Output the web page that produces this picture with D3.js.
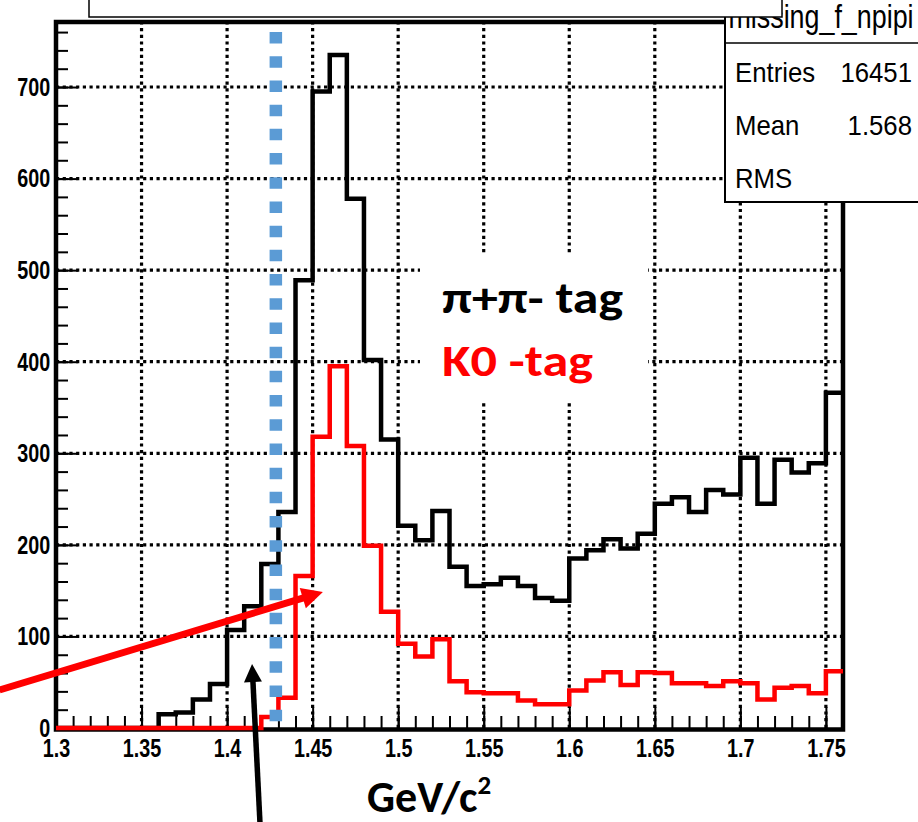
<!DOCTYPE html>
<html>
<head>
<meta charset="utf-8">
<script src="https://cdn.jsdelivr.net/npm/d3@7/dist/d3.min.js"></script>
<style>
  body { margin: 0; background: #fff; }
  svg { display: block; }
  .tick text { font-family: "Liberation Sans", Arial, sans-serif; font-size: 26px; font-weight: bold; fill: #000; }
  .stats text { font-family: "Liberation Sans", Arial, sans-serif; fill: #000; }
  .tag { font-family: Carlito, Lato, "Open Sans", sans-serif; font-weight: bold; }
</style>
</head>
<body>
<svg id="chart" width="918" height="822"></svg>
<script>
// histogram binning (GeV/c^2)
var binStart = 1.30, binWidth = 0.01;

// pi+ pi- tagged counts, one per 0.01 bin from 1.30 to 1.76
var pipiCounts = [0, 0, 0, 0, 0, 0,
  15, 17, 31, 48,
  107, 133, 179, 236, 489,
  695, 735, 578, 402, 315,
  221, 205, 237, 176, 155,
  157, 164, 155, 142, 139,
  185, 194, 206, 196, 212,
  245, 252, 236, 260, 255,
  295, 245, 293, 279, 289,
  366];

// K0 tagged counts, same bins
var k0Counts = [0, 0, 0, 0, 0, 0, 0, 0, 0, 0, 0, 0,
  12, 33, 166,
  318, 395, 308, 199, 127,
  92, 78, 97, 51, 39,
  38, 38, 30, 26, 26,
  41, 52, 61, 47, 61,
  60, 49, 49, 46, 51,
  49, 31, 44, 46, 38,
  62];

var xTicks = [1.3, 1.35, 1.4, 1.45, 1.5, 1.55, 1.6, 1.65, 1.7, 1.75];
var yTicks = [0, 100, 200, 300, 400, 500, 600, 700];
var xMinorTicks = d3.range(1.3, 1.7651, 0.01);
var yMinorTicks = d3.range(0, 771, 20);

var cutValue = 1.4285;          // blue dotted cut line
var redArrow = [[1.267, 41.5], [1.456, 148.5]];
var blackArrow = [[1.4192, -102.7], [1.4146, 69.9]];

var statsTitle = "missing_f_npipi";
var statsLabels = ["Entries", "Mean", "RMS"];
var statsValues = ["16451", "1.568", ""];

var svg = d3.select("#chart");

var x = d3.scaleLinear().domain([1.3, 1.76]).range([56, 843]);
var y = d3.scaleLinear().domain([0, 771]).range([728, 22]);

svg.append("rect").attr("width", 918).attr("height", 822).attr("fill", "#fff");

// grid
var grid = svg.append("g")
  .attr("stroke", "#000")
  .attr("stroke-width", 3.2)
  .attr("stroke-dasharray", "3.2 3.5");

grid.selectAll(".vg")
  .data(xTicks.slice(1))
  .enter().append("line")
  .attr("x1", function(d) { return x(d); })
  .attr("x2", function(d) { return x(d); })
  .attr("y1", y.range()[0])
  .attr("y2", y.range()[1]);

grid.selectAll(".hg")
  .data(yTicks.slice(1))
  .enter().append("line")
  .attr("y1", function(d) { return y(d); })
  .attr("y2", function(d) { return y(d); })
  .attr("x1", x.range()[0])
  .attr("x2", x.range()[1]);

// white box behind the tag labels
svg.append("rect")
  .attr("x", 420).attr("y", 253)
  .attr("width", 228).attr("height", 148)
  .attr("fill", "#fff");

// axes
var xMinor = svg.append("g")
  .attr("transform", "translate(0," + y(0) + ")")
  .call(d3.axisBottom(x).tickValues(xMinorTicks).tickSizeInner(-12).tickSizeOuter(0).tickFormat(""));

var xAxis = svg.append("g")
  .attr("transform", "translate(0," + y(0) + ")")
  .call(d3.axisBottom(x)
    .tickValues(xTicks)
    .tickSizeInner(-21)
    .tickSizeOuter(0)
    .tickPadding(11)
    .tickFormat(function(d) { return String(+d.toFixed(2)); }));

var yMinor = svg.append("g")
  .attr("transform", "translate(" + x(1.3) + ",0)")
  .call(d3.axisLeft(y).tickValues(yMinorTicks).tickSizeInner(-12).tickSizeOuter(0).tickFormat(""));

var yAxis = svg.append("g")
  .attr("transform", "translate(" + x(1.3) + ",0)")
  .call(d3.axisLeft(y)
    .tickValues(yTicks)
    .tickSizeInner(-22)
    .tickSizeOuter(0)
    .tickPadding(7.6)
    .tickFormat(d3.format("d")));

[xMinor, xAxis, yMinor, yAxis].forEach(function(g) {
  g.select(".domain").remove();
  g.selectAll(".tick line").attr("stroke", "#000").attr("stroke-width", 2);
});
xAxis.selectAll("text").attr("transform", "scale(0.76,1)");
yAxis.selectAll("text").attr("transform", "scale(0.76,1)");

// frame
svg.append("rect")
  .attr("x", x(1.3)).attr("y", y(771))
  .attr("width", x(1.76) - x(1.3))
  .attr("height", y(0) - y(771) + 1.5)
  .attr("fill", "none")
  .attr("stroke", "#000")
  .attr("stroke-width", 4.5);

// histograms
function steps(counts) {
  var pts = counts.map(function(c, i) { return [binStart + i * binWidth, c]; });
  pts.push([binStart + counts.length * binWidth, counts[counts.length - 1]]);
  return pts;
}

var line = d3.line()
  .x(function(d) { return x(d[0]); })
  .y(function(d) { return y(d[1]); })
  .curve(d3.curveStepAfter);

svg.append("path")
  .datum(steps(pipiCounts))
  .attr("d", line)
  .attr("fill", "none")
  .attr("stroke", "#000")
  .attr("stroke-width", 4.5);

svg.append("path")
  .datum(steps(k0Counts))
  .attr("d", line)
  .attr("fill", "none")
  .attr("stroke", "#ff0000")
  .attr("stroke-width", 4.5);

// cut line
svg.append("line")
  .attr("x1", x(cutValue)).attr("x2", x(cutValue))
  .attr("y1", y(760)).attr("y2", y(6.5))
  .attr("stroke", "#5b9bd5")
  .attr("stroke-width", 12.5)
  .attr("stroke-dasharray", "11.5 12.7");

// annotation arrows
function arrow(ends, color, width, headLen, headHalf) {
  var x0 = x(ends[0][0]), y0 = y(ends[0][1]);
  var x1 = x(ends[1][0]), y1 = y(ends[1][1]);
  var dx = x1 - x0, dy = y1 - y0, len = Math.sqrt(dx * dx + dy * dy);
  var ux = dx / len, uy = dy / len;
  var bx = x1 - ux * headLen, by = y1 - uy * headLen;
  svg.append("line")
    .attr("x1", x0).attr("y1", y0)
    .attr("x2", x1 - ux * headLen * 0.8).attr("y2", y1 - uy * headLen * 0.8)
    .attr("stroke", color)
    .attr("stroke-width", width);
  svg.append("polygon")
    .attr("points", [[x1, y1], [bx - uy * headHalf, by + ux * headHalf], [bx + uy * headHalf, by - ux * headHalf]].join(" "))
    .attr("fill", color);
}
arrow(redArrow, "#ff0000", 7, 21, 10.5);
arrow(blackArrow, "#000", 5.5, 18, 9);

// tag labels
svg.append("text").attr("class", "tag")
  .attr("x", 442).attr("y", 313)
  .attr("font-size", 44)
  .attr("textLength", 181).attr("lengthAdjust", "spacingAndGlyphs")
  .attr("fill", "#000")
  .text("π+π- tag");

svg.append("text").attr("class", "tag")
  .attr("x", 442).attr("y", 376)
  .attr("font-size", 44)
  .attr("textLength", 151).attr("lengthAdjust", "spacingAndGlyphs")
  .attr("fill", "#ff0000")
  .text("K0 -tag");

// axis title
var xt = svg.append("text").attr("class", "tag")
  .attr("x", 367).attr("y", 812)
  .attr("font-size", 44)
  .attr("fill", "#000");
xt.append("tspan").text("GeV/c");
xt.append("tspan").attr("font-size", 27).attr("dy", -18).text("2");

// stats box
var stats = svg.append("g").attr("class", "stats");
stats.append("rect")
  .attr("x", 725).attr("y", -5)
  .attr("width", 210).attr("height", 207)
  .attr("fill", "#fff")
  .attr("stroke", "#000")
  .attr("stroke-width", 2);
stats.append("line")
  .attr("x1", 725).attr("x2", 918)
  .attr("y1", 43).attr("y2", 43)
  .attr("stroke", "#000").attr("stroke-width", 1.5);
stats.append("text")
  .attr("transform", "translate(821,28) scale(0.79,1)")
  .attr("text-anchor", "middle")
  .attr("font-size", 34)
  .text(statsTitle);

var rowY = [82, 135, 188];
statsLabels.forEach(function(l, i) {
  stats.append("text")
    .attr("transform", "translate(735," + rowY[i] + ") scale(0.92,1)")
    .attr("font-size", 28)
    .text(l);
  stats.append("text")
    .attr("transform", "translate(912," + rowY[i] + ") scale(0.92,1)")
    .attr("text-anchor", "end")
    .attr("font-size", 28)
    .text(statsValues[i]);
});

// title box (its text lies above the picture)
svg.append("rect")
  .attr("x", 89).attr("y", -10)
  .attr("width", 693).attr("height", 27)
  .attr("fill", "#fff")
  .attr("stroke", "#000")
  .attr("stroke-width", 1.5);
</script>
</body>
</html>
